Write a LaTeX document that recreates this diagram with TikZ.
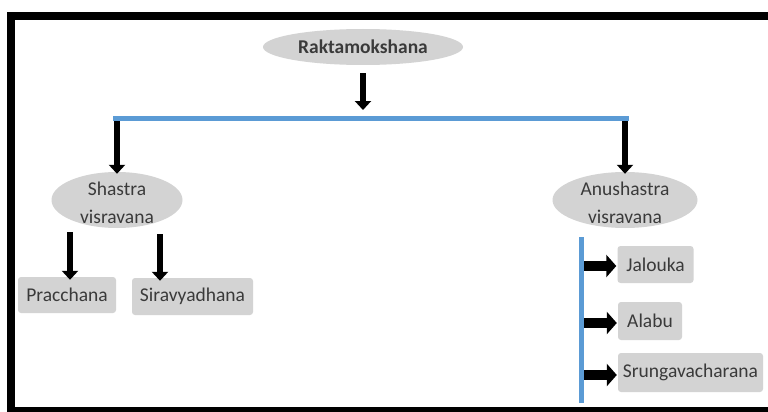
\documentclass[tikz,border=0pt]{standalone}
\usepackage{fontspec}
\setmainfont{Carlito}
\usetikzlibrary{arrows.meta,shapes.geometric}
\definecolor{boxgray}{HTML}{D3D3D3}
\definecolor{barblue}{HTML}{5B9BD5}
\definecolor{txtgray}{HTML}{3A3A3A}
\tikzset{
  oval/.style={ellipse, fill=boxgray, text=txtgray, inner sep=0pt, align=center, font=\fontsize{19.5}{27}\selectfont},
  leaf/.style={rectangle, rounded corners=3pt, fill=boxgray, text=txtgray, inner sep=0pt, font=\fontsize{19.5}{23}\selectfont},
  fatarrow/.style={line width=6pt, -{Triangle[width=16pt,length=9pt]}},
  sidearrow/.style={line width=10pt, -{Triangle[width=22pt,length=10pt]}},
  bar/.style={barblue, line width=5pt},
}
\begin{document}
\begin{tikzpicture}[x=1pt,y=-1pt]
\useasboundingbox (0,0) rectangle (768,412);
% frame
\fill[black] (7,12) rectangle (768,20);
\fill[black] (7,12) rectangle (15,412);
\fill[black] (7,407) rectangle (768,412);
% nodes
\node[oval, minimum width=200pt, minimum height=36pt, font=\fontsize{19.5}{23}\selectfont\bfseries] (root) at (363,47) {Raktamokshana};
\node[oval, minimum width=131pt, minimum height=56pt] (shastra) at (117,200) {};
\node[text=txtgray, align=center, font=\fontsize{19.5}{28}\selectfont] (shastraT) at (117,203) {Shastra\\visravana};
\node[oval, minimum width=145pt, minimum height=56pt] (anu) at (625,200) {};
\node[text=txtgray, align=center, font=\fontsize{19.5}{28}\selectfont] (anuT) at (625,203) {Anushastra\\visravana};
\node[leaf, minimum width=98pt, minimum height=36pt] (pra) at (67,295) {Pracchana};
\node[leaf, minimum width=121pt, minimum height=37pt] (sira) at (192.5,296.5) {Siravyadhana};
\node[leaf, minimum width=76pt, minimum height=37pt] (jal) at (655.5,264.5) {Jalouka};
\node[leaf, minimum width=64pt, minimum height=38pt] (ala) at (650,321) {Alabu};
\node[leaf, minimum width=145pt, minimum height=39pt] (srn) at (690.5,372.5) {Srungavacharana};
% bar and coordinates
\coordinate (barL) at (113,118);
\coordinate (barR) at (629,118);
\coordinate (barM) at (363,110);
\coordinate (vT) at (581,237);
\coordinate (vB) at (581,403);
\draw[bar] (barL) -- (barR);
\draw[bar] (vT) -- (vB);
% arrows
\draw[fatarrow] (363,73) -- (barM);
\draw[fatarrow] (117,121) -- ([yshift=-2pt]shastra.north);
\draw[fatarrow] (625,121) -- ([yshift=-2pt]anu.north);
\draw[fatarrow] (70,232) -- ([yshift=-3pt]pra.north -| 70,0);
\draw[fatarrow] (160,234) -- ([yshift=-3pt]sira.north -| 160,0);
\draw[sidearrow] (584,266) -- ([xshift=-1pt]jal.west |- 0,266);
\draw[sidearrow] (584,323) -- ([xshift=-1pt]ala.west |- 0,323);
\draw[sidearrow] (584,375) -- ([xshift=-1pt]srn.west |- 0,375);
\end{tikzpicture}
\end{document}
